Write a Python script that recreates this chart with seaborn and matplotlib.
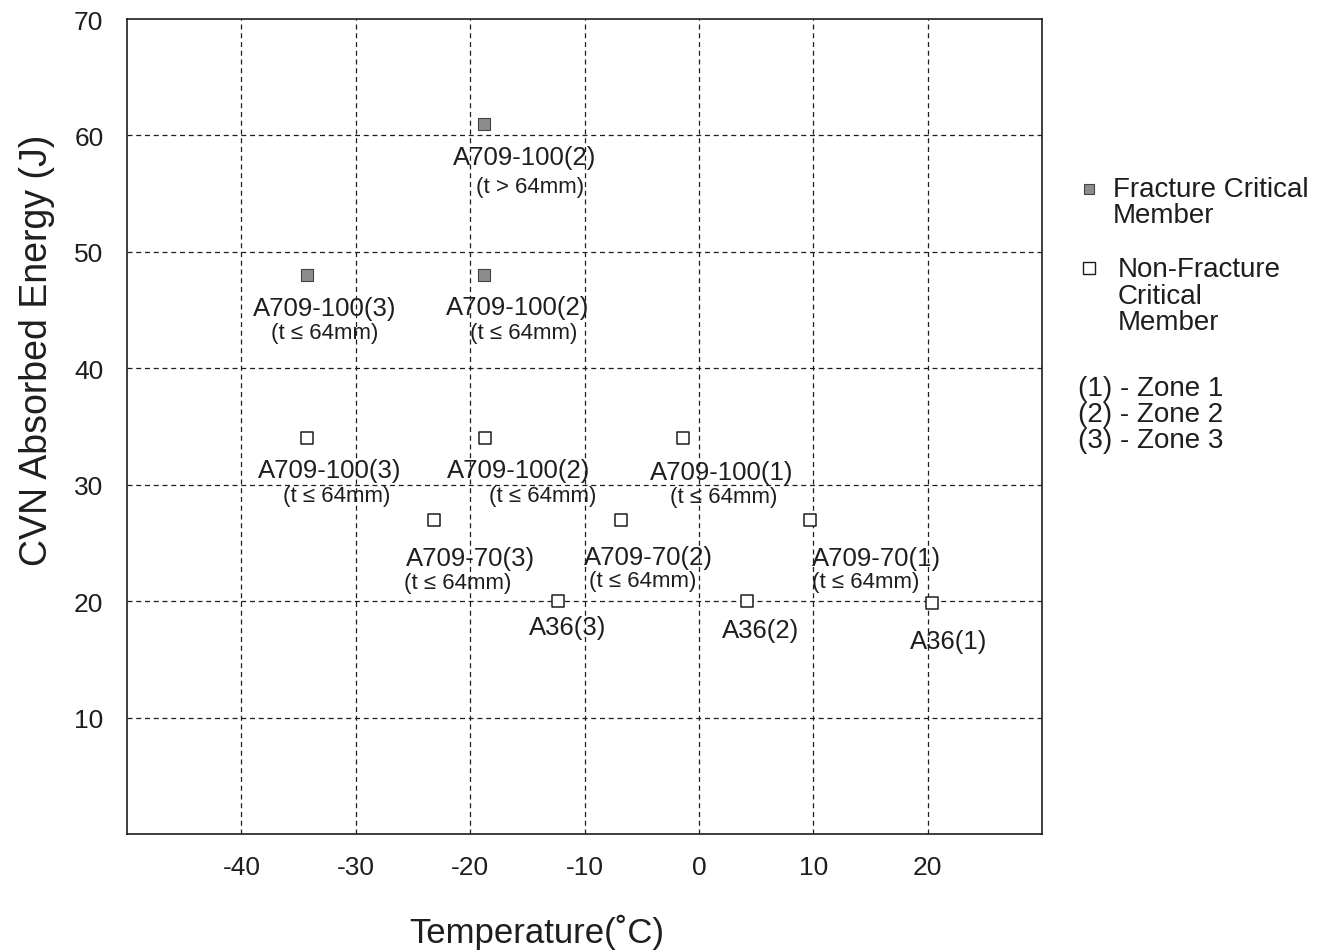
import matplotlib
matplotlib.use("Agg")
import matplotlib.pyplot as plt
from matplotlib.lines import Line2D
import seaborn as sns
import pandas as pd

# ---- data -------------------------------------------------------------
steel = ["A709-100(2)", "A709-100(3)", "A709-100(2)",
         "A709-100(3)", "A709-100(2)", "A709-100(1)",
         "A709-70(3)", "A709-70(2)", "A709-70(1)",
         "A36(3)", "A36(2)", "A36(1)"]
thickness = ["(t > 64mm)", "(t \u2264 64mm)", "(t \u2264 64mm)",
             "(t \u2264 64mm)", "(t \u2264 64mm)", "(t \u2264 64mm)",
             "(t \u2264 64mm)", "(t \u2264 64mm)", "(t \u2264 64mm)",
             "", "", ""]
temperature = [-18.8, -34.3, -18.8,
               -34.3, -18.7, -1.4,
               -23.2, -6.8, 9.7,
               -12.3, 4.2, 20.4]
energy = [61, 48, 48,
          34, 34, 34,
          27, 27, 27,
          20, 20, 19.8]
member = ["Fracture Critical"] * 3 + ["Non-Fracture Critical"] * 9

x_ticks = [-40, -30, -20, -10, 0, 10, 20]
y_ticks = [10, 20, 30, 40, 50, 60, 70]
zones = ["(1) - Zone 1", "(2) - Zone 2", "(3) - Zone 3"]

# label placement relative to each mark (pixels: line 1, line 2)
name_off = [(41, -33), (18, -33), (34, -32),
            (23, -32), (34, -32), (39, -34),
            (37, -38), (27, -37), (67, -38),
            (9, -26), (14, -29), (16, -38)]
thick_off = [(46, -63), (18, -57), (40, -57),
             (30, -57), (58, -57), (41, -58),
             (24, -63), (22, -61), (56, -62),
             (0, 0), (0, 0), (0, 0)]

df = pd.DataFrame({"Temperature": temperature, "Energy": energy,
                   "Member": member})

# ---- style ------------------------------------------------------------
sns.set_theme(style="white")
plt.rcParams["font.family"] = ["Liberation Sans", "DejaVu Sans"]
ink = "#1e1e1e"

fig = plt.figure(figsize=(13.25, 9.53), dpi=100)
ax = fig.add_axes([127 / 1325, 1 - 835 / 953, 915 / 1325, 815 / 953])

fcm = df[df["Member"] == "Fracture Critical"]
nfcm = df[df["Member"] == "Non-Fracture Critical"]
sns.scatterplot(data=fcm, x="Temperature", y="Energy", marker="s", s=85,
                color="#8c8c8c", edgecolor="#444444", linewidth=0.8,
                ax=ax, zorder=4, legend=False)
sns.scatterplot(data=nfcm, x="Temperature", y="Energy", marker="s", s=85,
                facecolor="white", edgecolor=ink, linewidth=1.1,
                ax=ax, zorder=4, legend=False)

ax.set_xlim(-50, 30)
ax.set_ylim(0, 70)
ax.set_xticks(x_ticks)
ax.set_yticks(y_ticks)
ax.set_xticklabels([str(v) for v in x_ticks])
ax.set_yticklabels([str(v) for v in y_ticks])
ax.tick_params(axis="both", length=0, labelsize=19, colors=ink)
ax.tick_params(axis="y", pad=17)
ax.tick_params(axis="x", pad=15)

for v in x_ticks:
    ax.axvline(v, color=ink, lw=0.9, ls=(0, (4, 3)), zorder=1)
for v in y_ticks[:-1]:
    ax.axhline(v, color=ink, lw=0.9, ls=(0, (4, 3)), zorder=1)

for sp in ax.spines.values():
    sp.set_color(ink)
    sp.set_linewidth(1.2)

ax.set_xlabel("Temperature(\u02daC)", fontsize=25, color=ink)
ax.xaxis.set_label_coords((537 - 127) / 915, (835 - 915) / 815)
ax.set_ylabel("CVN Absorbed Energy (J)", fontsize=27, color=ink)
ax.yaxis.set_label_coords((55 - 127) / 915, (835 - 350) / 815)

# ---- point labels -----------------------------------------------------
for i in range(len(steel)):
    ax.annotate(steel[i], (temperature[i], energy[i]), xytext=name_off[i],
                textcoords="offset pixels", ha="center", va="center",
                fontsize=18.5, color=ink, zorder=5)
    if thickness[i]:
        ax.annotate(thickness[i], (temperature[i], energy[i]),
                    xytext=thick_off[i], textcoords="offset pixels",
                    ha="center", va="center", fontsize=16, color=ink,
                    zorder=5)

# ---- key --------------------------------------------------------------
W, H = 1325, 953
fig.add_artist(Line2D([1089 / W], [1 - 190 / H], marker="s", markersize=7,
                      color="#8c8c8c", markeredgecolor="#444444",
                      markeredgewidth=0.8, transform=fig.transFigure))
fig.text(1113 / W, 1 - 177 / H, "Fracture Critical\nMember", fontsize=20,
         color=ink, ha="left", va="top", linespacing=1.0)
fig.add_artist(Line2D([1089 / W], [1 - 269 / H], marker="s", markersize=8,
                      color="white", markeredgecolor=ink,
                      markeredgewidth=1.0, transform=fig.transFigure))
fig.text(1118 / W, 1 - 257 / H, "Non-Fracture\nCritical\nMember",
         fontsize=20, color=ink, ha="left", va="top", linespacing=1.03)
fig.text(1078 / W, 1 - 376 / H, "\n".join(zones), fontsize=20, color=ink,
         ha="left", va="top", linespacing=1.0)

fig.savefig("out.png", dpi=100, facecolor="white")
